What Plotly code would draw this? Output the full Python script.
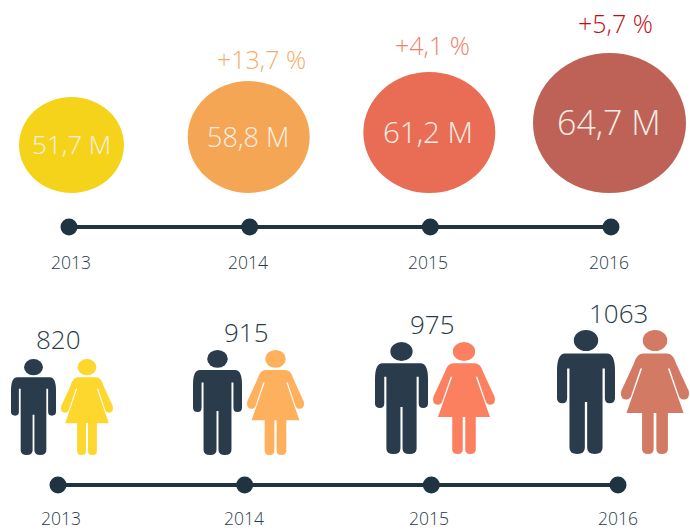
import plotly.graph_objects as go

# ---- data ----
years = [2013, 2014, 2015, 2016]
year_labels = ["2013", "2014", "2015", "2016"]
audience_labels = ["51,7 M", "58,8 M", "61,2 M", "64,7 M"]
growth_labels = [None, "+13,7 %", "+4,1 %", "+5,7 %"]
people_labels = ["820", "915", "975", "1063"]

# ---- styles ----
W, H = 690, 530
FONT = "Open Sans"
DARK = "#1F3440"
TXT = "#2A3B47"
bubble_colors = ["#F5D31B", "#F5A654", "#E96D54", "#BE6257"]
growth_colors = [None, "#F7AD6A", "#EE7F6C", "#C00D14"]
woman_colors = ["#FDD62E", "#FFB05C", "#FB8060", "#D27A64"]
man_color = "#2A3B4C"

# ---- layout (pixels) ----
bubble_w = [105, 122, 132, 153]
bubble_h = [96, 112, 121, 140]
bubble_dx = [2.5, -1, -1, -1.5]
bubble_bottom = 193
bubble_font = [26, 27, 29.5, 34]
bubble_text_y = [144, 136, 131, 122]
bubble_text_dx = [2, -2, -2, -2]
growth_y = [None, 59, 45, 23]
growth_dx = [None, 12, 2, 4]
top_px = (69, 611)
bot_px = (58, 618)
top_line_y, bot_line_y = 227, 485
top_year_y, bot_year_y = 262, 518
top_year_dx = [2, -2, -2, -2]
bot_year_dx = [3, -1, -2, 0]
people_text_y = [339, 332, 324, 313]
people_text_dx = [0, 2, 1, 0]
man_box = [(11, 56, 359, 455), (193, 242, 350, 455), (375, 428, 342, 454), (557, 615, 330, 454)]
woman_box = [(61, 113, 359, 455), (247, 304, 350, 455), (433, 495, 342, 454), (621, 689, 330, 454)]


def year_range(px):
    slope = (px[1] - px[0]) / (years[-1] - years[0])
    return [years[0] - px[0] / slope, years[-1] + (W - px[1]) / slope]


MAN = [("M", .14, .19), ("L", .86, .19), ("Q", 1, .19, 1, .33), ("L", 1, .55), ("Q", 1, .59, .905, .59),
       ("Q", .825, .59, .825, .55), ("L", .825, .31), ("L", .785, .31), ("L", .785, .95), ("Q", .785, 1, .65, 1),
       ("Q", .52, 1, .52, .95), ("L", .52, .58), ("L", .48, .58), ("L", .48, .95), ("Q", .48, 1, .35, 1),
       ("Q", .215, 1, .215, .95), ("L", .215, .31), ("L", .175, .31), ("L", .175, .55), ("Q", .175, .59, .095, .59),
       ("Q", 0, .59, 0, .55), ("L", 0, .33), ("Q", 0, .19, .14, .19)]
WOMAN = [("M", .33, .19), ("L", .67, .19), ("Q", .77, .19, .81, .27), ("L", .995, .49), ("Q", 1.02, .56, .92, .56),
         ("Q", .87, .56, .85, .53), ("L", .715, .31), ("L", .69, .31), ("L", .92, .67), ("L", .69, .67),
         ("L", .69, .96), ("Q", .69, 1, .6, 1), ("Q", .52, 1, .52, .96), ("L", .52, .67), ("L", .48, .67),
         ("L", .48, .96), ("Q", .48, 1, .4, 1), ("Q", .31, 1, .31, .96), ("L", .31, .67), ("L", .08, .67),
         ("L", .31, .31), ("L", .285, .31), ("L", .15, .53), ("Q", .13, .56, .08, .56), ("Q", -.02, .56, .005, .49),
         ("L", .19, .27), ("Q", .23, .19, .33, .19)]


def body_path(cmds, box):
    x0, x1, y0, y1 = box
    out = []
    for c in cmds:
        pts = c[1:]
        coords = []
        for i in range(0, len(pts), 2):
            coords.append(f"{x0 + pts[i] * (x1 - x0):.2f},{y0 + pts[i + 1] * (y1 - y0):.2f}")
        out.append(c[0] + " " + " ".join(coords))
    return " ".join(out) + " Z"


def head(box, ru, rv=.085):
    x0, x1, y0, y1 = box
    return dict(type="circle", xref="x3", yref="y", layer="above",
                x0=x0 + (.5 - ru) * (x1 - x0), x1=x0 + (.5 + ru) * (x1 - x0),
                y0=y0, y1=y0 + 2 * rv * (y1 - y0))


shapes, ann = [], []


def label(text, axis, yr, y, size, color, dx=0):
    ann.append(dict(text=text, x=yr, xref=axis, y=y, yref="y", xshift=dx, showarrow=False,
                    xanchor="center", yanchor="middle",
                    font=dict(family=FONT, size=size, color=color, weight=300)))


for i, yr in enumerate(years):
    shapes.append(dict(type="circle", xref="x", yref="y", xsizemode="pixel", xanchor=yr,
                       x0=bubble_dx[i] - bubble_w[i] / 2, x1=bubble_dx[i] + bubble_w[i] / 2,
                       y0=bubble_bottom - bubble_h[i], y1=bubble_bottom,
                       fillcolor=bubble_colors[i], line=dict(width=0), layer="below"))
    label(audience_labels[i], "x", yr, bubble_text_y[i], bubble_font[i], "#F7EFE6", bubble_text_dx[i])
    if growth_labels[i]:
        label(growth_labels[i], "x", yr, growth_y[i], 25, growth_colors[i], growth_dx[i])
    label(year_labels[i], "x", yr, top_year_y, 17.5, TXT, top_year_dx[i])
    label(year_labels[i], "x2", yr, bot_year_y, 17.5, TXT, bot_year_dx[i])
    label(people_labels[i], "x2", yr, people_text_y[i], 26, TXT, people_text_dx[i])

    mb, wb = man_box[i], woman_box[i]
    shapes.append(dict(type="path", xref="x3", yref="y", path=body_path(MAN, mb),
                       fillcolor=man_color, line=dict(width=0)))
    shapes.append(dict(fillcolor=man_color, line=dict(width=0), **head(mb, .21)))
    shapes.append(dict(type="path", xref="x3", yref="y", path=body_path(WOMAN, wb),
                       fillcolor=woman_colors[i], line=dict(width=0)))
    shapes.append(dict(fillcolor=woman_colors[i], line=dict(width=0), **head(wb, .18)))

fig = go.Figure()
fig.add_trace(go.Scatter(x=years, y=[top_line_y] * 4, mode="lines+markers", xaxis="x", yaxis="y",
                         line=dict(color=DARK, width=4), marker=dict(color=DARK, size=17),
                         hoverinfo="skip", showlegend=False))
fig.add_trace(go.Scatter(x=years, y=[bot_line_y] * 4, mode="lines+markers", xaxis="x2", yaxis="y",
                         line=dict(color=DARK, width=4), marker=dict(color=DARK, size=17),
                         hoverinfo="skip", showlegend=False))

hidden = dict(visible=False, showgrid=False, zeroline=False, fixedrange=True)
fig.update_layout(
    width=W, height=H, margin=dict(l=0, r=0, t=0, b=0), autosize=False,
    paper_bgcolor="white", plot_bgcolor="white", showlegend=False,
    xaxis=dict(range=year_range(top_px), domain=[0, 1], **hidden),
    xaxis2=dict(range=year_range(bot_px), domain=[0, 1], overlaying="x", **hidden),
    xaxis3=dict(range=[0, W], domain=[0, 1], overlaying="x", **hidden),
    yaxis=dict(range=[H, 0], domain=[0, 1], **hidden),
    shapes=shapes, annotations=ann,
)
fig.write_html("out.html", config=dict(displayModeBar=False),
               post_script="document.body.style.margin='0';document.body.style.overflow='hidden';")
